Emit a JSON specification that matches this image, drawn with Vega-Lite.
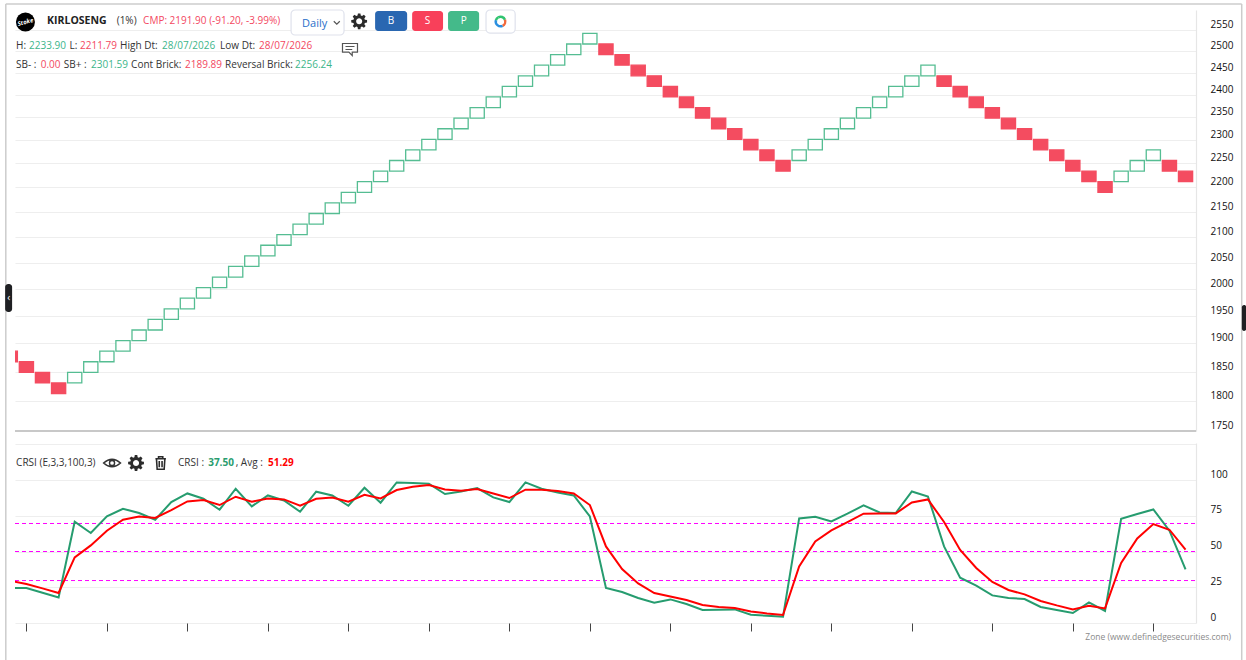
{"$schema":"https://vega.github.io/schema/vega-lite/v6.json","autosize":{"type":"none"},"padding":{"left":15,"right":50,"top":10,"bottom":37},"width":1181,"height":613,"background":"#ffffff","config":{"view":{"stroke":null},"text":{"font":"Open Sans"}},
"datasets":{
"bricks":[{"i":-1,"price":1867.58,"high":1886.25,"dir":"down"},{"i":0,"price":1849.08,"high":1867.58,"dir":"down"},{"i":1,"price":1830.78,"high":1849.08,"dir":"down"},{"i":2,"price":1812.65,"high":1830.78,"dir":"down"},{"i":3,"price":1830.78,"high":1849.08,"dir":"up"},{"i":4,"price":1849.08,"high":1867.58,"dir":"up"},{"i":5,"price":1867.58,"high":1886.25,"dir":"up"},{"i":6,"price":1886.25,"high":1905.11,"dir":"up"},{"i":7,"price":1905.11,"high":1924.16,"dir":"up"},{"i":8,"price":1924.16,"high":1943.4,"dir":"up"},{"i":9,"price":1943.4,"high":1962.84,"dir":"up"},{"i":10,"price":1962.84,"high":1982.47,"dir":"up"},{"i":11,"price":1982.47,"high":2002.29,"dir":"up"},{"i":12,"price":2002.29,"high":2022.32,"dir":"up"},{"i":13,"price":2022.32,"high":2042.54,"dir":"up"},{"i":14,"price":2042.54,"high":2062.96,"dir":"up"},{"i":15,"price":2062.96,"high":2083.59,"dir":"up"},{"i":16,"price":2083.59,"high":2104.43,"dir":"up"},{"i":17,"price":2104.43,"high":2125.47,"dir":"up"},{"i":18,"price":2125.47,"high":2146.73,"dir":"up"},{"i":19,"price":2146.73,"high":2168.19,"dir":"up"},{"i":20,"price":2168.19,"high":2189.88,"dir":"up"},{"i":21,"price":2189.88,"high":2211.78,"dir":"up"},{"i":22,"price":2211.78,"high":2233.9,"dir":"up"},{"i":23,"price":2233.9,"high":2256.24,"dir":"up"},{"i":24,"price":2256.24,"high":2278.8,"dir":"up"},{"i":25,"price":2278.8,"high":2301.59,"dir":"up"},{"i":26,"price":2301.59,"high":2324.61,"dir":"up"},{"i":27,"price":2324.61,"high":2347.85,"dir":"up"},{"i":28,"price":2347.85,"high":2371.33,"dir":"up"},{"i":29,"price":2371.33,"high":2395.04,"dir":"up"},{"i":30,"price":2395.04,"high":2418.99,"dir":"up"},{"i":31,"price":2418.99,"high":2443.18,"dir":"up"},{"i":32,"price":2443.18,"high":2467.62,"dir":"up"},{"i":33,"price":2467.62,"high":2492.29,"dir":"up"},{"i":34,"price":2492.29,"high":2517.22,"dir":"up"},{"i":35,"price":2517.22,"high":2542.39,"dir":"up"},{"i":36,"price":2492.29,"high":2517.22,"dir":"down"},{"i":37,"price":2467.62,"high":2492.29,"dir":"down"},{"i":38,"price":2443.18,"high":2467.62,"dir":"down"},{"i":39,"price":2418.99,"high":2443.18,"dir":"down"},{"i":40,"price":2395.04,"high":2418.99,"dir":"down"},{"i":41,"price":2371.33,"high":2395.04,"dir":"down"},{"i":42,"price":2347.85,"high":2371.33,"dir":"down"},{"i":43,"price":2324.61,"high":2347.85,"dir":"down"},{"i":44,"price":2301.59,"high":2324.61,"dir":"down"},{"i":45,"price":2278.8,"high":2301.59,"dir":"down"},{"i":46,"price":2256.24,"high":2278.8,"dir":"down"},{"i":47,"price":2233.9,"high":2256.24,"dir":"down"},{"i":48,"price":2256.24,"high":2278.8,"dir":"up"},{"i":49,"price":2278.8,"high":2301.59,"dir":"up"},{"i":50,"price":2301.59,"high":2324.61,"dir":"up"},{"i":51,"price":2324.61,"high":2347.85,"dir":"up"},{"i":52,"price":2347.85,"high":2371.33,"dir":"up"},{"i":53,"price":2371.33,"high":2395.04,"dir":"up"},{"i":54,"price":2395.04,"high":2418.99,"dir":"up"},{"i":55,"price":2418.99,"high":2443.18,"dir":"up"},{"i":56,"price":2443.18,"high":2467.62,"dir":"up"},{"i":57,"price":2418.99,"high":2443.18,"dir":"down"},{"i":58,"price":2395.04,"high":2418.99,"dir":"down"},{"i":59,"price":2371.33,"high":2395.04,"dir":"down"},{"i":60,"price":2347.85,"high":2371.33,"dir":"down"},{"i":61,"price":2324.61,"high":2347.85,"dir":"down"},{"i":62,"price":2301.59,"high":2324.61,"dir":"down"},{"i":63,"price":2278.8,"high":2301.59,"dir":"down"},{"i":64,"price":2256.24,"high":2278.8,"dir":"down"},{"i":65,"price":2233.9,"high":2256.24,"dir":"down"},{"i":66,"price":2211.78,"high":2233.9,"dir":"down"},{"i":67,"price":2189.88,"high":2211.78,"dir":"down"},{"i":68,"price":2211.78,"high":2233.9,"dir":"up"},{"i":69,"price":2233.9,"high":2256.24,"dir":"up"},{"i":70,"price":2256.24,"high":2278.8,"dir":"up"},{"i":71,"price":2233.9,"high":2256.24,"dir":"down"},{"i":72,"price":2211.78,"high":2233.9,"dir":"down"}],
"crsi":[{"i":-1,"crsi":24.48,"avg":29.58},{"i":0,"crsi":24.48,"avg":27.27},{"i":1,"crsi":21.19,"avg":24.2},{"i":2,"crsi":17.9,"avg":20.98},{"i":3,"crsi":70.84,"avg":45.87},{"i":4,"crsi":62.94,"avg":54.27},{"i":5,"crsi":74.55,"avg":64.55},{"i":6,"crsi":79.93,"avg":72.24},{"i":7,"crsi":76.92,"avg":74.55},{"i":8,"crsi":72.24,"avg":73.43},{"i":9,"crsi":84.62,"avg":79.02},{"i":10,"crsi":90.63,"avg":85.03},{"i":11,"crsi":86.92,"avg":86.01},{"i":12,"crsi":79.23,"avg":82.52},{"i":13,"crsi":93.92,"avg":88.32},{"i":14,"crsi":81.54,"avg":84.83},{"i":15,"crsi":89.23,"avg":87.13},{"i":16,"crsi":85.73,"avg":86.43},{"i":17,"crsi":77.83,"avg":82.03},{"i":18,"crsi":91.82,"avg":86.92},{"i":19,"crsi":89.23,"avg":87.83},{"i":20,"crsi":82.03,"avg":84.83},{"i":21,"crsi":94.62,"avg":89.72},{"i":22,"crsi":84.13,"avg":87.13},{"i":23,"crsi":98.32,"avg":93.01},{"i":24,"crsi":97.9,"avg":95.31},{"i":25,"crsi":97.41,"avg":96.5},{"i":26,"crsi":90.21,"avg":93.43},{"i":27,"crsi":92.03,"avg":92.52},{"i":28,"crsi":94.41,"avg":93.71},{"i":29,"crsi":87.83,"avg":90.63},{"i":30,"crsi":84.62,"avg":87.41},{"i":31,"crsi":98.32,"avg":93.22},{"i":32,"crsi":93.92,"avg":93.22},{"i":33,"crsi":91.33,"avg":92.31},{"i":34,"crsi":89.23,"avg":90.63},{"i":35,"crsi":74.55,"avg":82.52},{"i":36,"crsi":24.48,"avg":53.57},{"i":37,"crsi":21.68,"avg":37.76},{"i":38,"crsi":17.48,"avg":27.69},{"i":39,"crsi":14.2,"avg":20.98},{"i":40,"crsi":16.5,"avg":18.6},{"i":41,"crsi":13.29,"avg":16.08},{"i":42,"crsi":9.09,"avg":12.59},{"i":43,"crsi":9.3,"avg":11.19},{"i":44,"crsi":9.51,"avg":10.49},{"i":45,"crsi":5.8,"avg":8.11},{"i":46,"crsi":5.1,"avg":6.71},{"i":47,"crsi":4.41,"avg":5.59},{"i":48,"crsi":73.15,"avg":39.58},{"i":49,"crsi":74.34,"avg":57.06},{"i":50,"crsi":71.05,"avg":64.76},{"i":51,"crsi":76.43,"avg":70.63},{"i":52,"crsi":82.24,"avg":76.43},{"i":53,"crsi":77.34,"avg":76.64},{"i":54,"crsi":76.92,"avg":76.64},{"i":55,"crsi":92.03,"avg":84.34},{"i":56,"crsi":88.53,"avg":86.43},{"i":57,"crsi":53.57,"avg":70.63},{"i":58,"crsi":31.68,"avg":51.05},{"i":59,"crsi":26.08,"avg":38.46},{"i":60,"crsi":19.3,"avg":28.67},{"i":61,"crsi":17.48,"avg":23.08},{"i":62,"crsi":16.78,"avg":20.0},{"i":63,"crsi":11.19,"avg":15.38},{"i":64,"crsi":9.09,"avg":12.31},{"i":65,"crsi":6.99,"avg":9.51},{"i":66,"crsi":14.41,"avg":12.1},{"i":67,"crsi":8.39,"avg":10.21},{"i":68,"crsi":72.94,"avg":41.96},{"i":69,"crsi":76.22,"avg":59.16},{"i":70,"crsi":79.44,"avg":69.23},{"i":71,"crsi":64.55,"avg":65.24},{"i":72,"crsi":37.5,"avg":51.29}]
},
"encoding":{"x":{"field":"i","type":"quantitative","title":null,"scale":{"domain":[-0.708,72.65],"nice":false,"zero":false,"padding":0},"axis":{"values":[0,5,10,15,20,25,30,35,40,45,50,55,60,65,70],"grid":false,"labels":false,"domain":false,"ticks":true,"tickSize":8,"tickColor":"#444444","tickWidth":1,"title":null}}},
"resolve":{"scale":{"y":"independent"}},
"layer":[
{"encoding":{"y":{"field":"price","type":"quantitative","title":null,"scale":{"type":"log","domain":[1750,2598.9],"range":[421,0],"nice":false,"zero":false},"axis":{"orient":"right","values":[1750,1800,1850,1900,1950,2000,2050,2100,2150,2200,2250,2300,2350,2400,2450,2500,2550],"format":"d","grid":true,"gridColor":"#eeeeee","gridWidth":1.2,"ticks":false,"domain":true,"domainColor":"#e6e6e6","domainWidth":1.2,"labelPadding":14,"labelOffset":-5.5,"labelFont":"Open Sans","labelFontSize":10,"labelColor":"#111111","labelOverlap":false,"labelBound":false,"labelFlush":false,"title":null}}},
"layer":[
{"data":{"values":[{"i":-0.708,"i2":72.65,"price":1750}]},"mark":{"type":"rule","stroke":"#c8c8c8","strokeWidth":2},"encoding":{"x2":{"field":"i2"}}},
{"data":{"values":[{"i":-1.28,"i2":75.49,"price":2613.6,"price2":2613.6},{"i":-1.28,"i2":-1.28,"price":2613.6,"price2":1411.3},{"i":75.49,"i2":75.49,"price":2613.6,"price2":1411.3}]},"mark":{"type":"rule","stroke":"#cccccc","strokeWidth":1.5},"encoding":{"x2":{"field":"i2"},"y2":{"field":"price2"}}},
{"data":{"name":"bricks"},"mark":{"type":"bar","width":14.2,"clip":true,"strokeWidth":1.3},"encoding":{"y2":{"field":"high"},"fill":{"field":"dir","type":"nominal","legend":null,"scale":{"domain":["up","down","B","S","P","handle"],"range":["#ffffff","#f44c60","#2a67b1","#f8405a","#44ba8a","#1f2023"]}},"stroke":{"field":"dir","type":"nominal","legend":null,"scale":{"domain":["up","down"],"range":["#55bd92","#f44c60"]}}}},
{"data":{"values":[{"i":16.44,"i2":19.73,"price":2538.6,"price2":2598.9,"part":"dropdown"},{"i":28.55,"i2":30.36,"price":2543.2,"price2":2598.9,"part":"ring"}]},"mark":{"type":"rect","cornerRadius":4,"fill":"#ffffff","stroke":"#dfe2ec","strokeWidth":1.2},"encoding":{"x2":{"field":"i2"},"y2":{"field":"price2"}}},
{"data":{"values":[{"i":21.66,"i2":23.65,"price":2548.1,"price2":2596.5,"part":"B"},{"i":23.96,"i2":25.88,"price":2548.1,"price2":2596.5,"part":"S"},{"i":26.19,"i2":28.12,"price":2548.1,"price2":2596.5,"part":"P"},{"i":-1.32,"i2":-0.888,"price":1957,"price2":2009.1,"part":"handle"},{"i":75.5,"i2":75.77,"price":1922.4,"price2":1969.9,"part":"handle"}]},"mark":{"type":"rect","cornerRadius":3},"encoding":{"x2":{"field":"i2"},"y2":{"field":"price2"},"fill":{"field":"part","type":"nominal","legend":null,"scale":{"domain":["up","down","B","S","P","handle"],"range":["#ffffff","#f44c60","#2a67b1","#f8405a","#44ba8a","#1f2023"]}}}},
{"data":{"values":[{"i":29.45,"price":2571,"a":-0.5,"b":1.2,"part":"g"},{"i":29.45,"price":2571,"a":1.2,"b":2.7,"part":"o"},{"i":29.45,"price":2571,"a":2.7,"b":5.0,"part":"b"},{"i":29.45,"price":2571,"a":5.0,"b":5.78,"part":"g"}]},"mark":{"type":"arc","radius":6,"radius2":3.5},"encoding":{"theta":{"field":"a","type":"quantitative","scale":null},"theta2":{"field":"b"},"color":{"field":"part","type":"nominal","legend":null,"scale":{"domain":["g","o","b","ink","up","down","blue","white"],"range":["#2fc46f","#f2693c","#2b8fe0","#333333","#3db58a","#f3485f","#2a6fc9","#ffffff"]}}}},
{"data":{"values":[{"i":-0.06,"price":2569.8}]},"mark":{"type":"point","shape":"circle","filled":true,"size":361,"fill":"#000000","stroke":null,"opacity":1}},
{"data":{"values":[{"i":-0.06,"price":2569.8,"label":"Stoke"}]},"mark":{"type":"text","fontSize":6,"fontStyle":"italic","fontWeight":"bold","fill":"#ffffff","angle":345,"align":"center","baseline":"middle"},"encoding":{"text":{"field":"label"}}},
{"data":{"values":[{"i":1.286,"price":2572.2,"label":"KIRLOSENG"}]},"mark":{"type":"text","fontSize":10.5,"fontWeight":"bold","fill":"#222222","align":"left","baseline":"middle"},"encoding":{"text":{"field":"label"}}},
{"data":{"values":[{"i":5.609,"price":2572.2,"label":"(1%)","tone":"ink"},{"i":7.248,"price":2572.2,"label":"CMP: 2191.90 (-91.20, -3.99%)","tone":"down"},{"i":-0.64,"price":2512.5,"label":"H:","tone":"ink"},{"i":0.168,"price":2512.5,"label":"2233.90","tone":"up"},{"i":2.683,"price":2512.5,"label":"L:","tone":"ink"},{"i":3.335,"price":2512.5,"label":"2211.79","tone":"down"},{"i":5.82,"price":2512.5,"label":"High Dt:","tone":"ink"},{"i":8.429,"price":2512.5,"label":"28/07/2026","tone":"up"},{"i":12.031,"price":2512.5,"label":"Low Dt:","tone":"ink"},{"i":14.453,"price":2512.5,"label":"28/07/2026","tone":"down"},{"i":-0.64,"price":2468.1,"label":"SB- :","tone":"ink"},{"i":0.888,"price":2468.1,"label":"0.00","tone":"down"},{"i":2.317,"price":2468.1,"label":"SB+ :","tone":"ink"},{"i":4.019,"price":2468.1,"label":"2301.59","tone":"up"},{"i":6.503,"price":2468.1,"label":"Cont Brick:","tone":"ink"},{"i":9.857,"price":2468.1,"label":"2189.89","tone":"down"},{"i":12.342,"price":2468.1,"label":"Reversal Brick:","tone":"ink"},{"i":16.689,"price":2468.1,"label":"2256.24","tone":"up"}]},"mark":{"type":"text","fontSize":10,"align":"left","baseline":"middle"},"encoding":{"text":{"field":"label"},"color":{"field":"tone","type":"nominal","legend":null,"scale":{"domain":["g","o","b","ink","up","down","blue","white"],"range":["#2fc46f","#f2693c","#2b8fe0","#333333","#3db58a","#f3485f","#2a6fc9","#ffffff"]}}}},
{"data":{"values":[{"i":17.125,"price":2565,"label":"Daily"}]},"mark":{"type":"text","fontSize":11,"fill":"#2a6fc9","align":"left","baseline":"middle"},"encoding":{"text":{"field":"label"}}},
{"data":{"values":[{"i":22.65,"price":2571.5,"label":"B"},{"i":24.92,"price":2571.5,"label":"S"},{"i":27.16,"price":2571.5,"label":"P"},{"i":-1.1,"price":1983,"label":"‹"}]},"mark":{"type":"text","fontSize":10,"fill":"#ffffff","align":"center","baseline":"middle"},"encoding":{"text":{"field":"label"}}},
{"data":{"values":[{"i":19.28,"price":2568}]},"mark":{"type":"point","shape":"M-1,-0.5 L0,0.5 L1,-0.5","filled":false,"fill":null,"size":36,"stroke":"#555555","strokeWidth":1.2,"opacity":1}},
{"data":{"values":[{"i":20.67,"price":2571.5}]},"mark":{"type":"point","filled":true,"size":256,"fill":"#2b2b2b","stroke":null,"opacity":1,"shape":"M.711,-.204 L.988,-.156 L.988,.156 L.711,.204 L.647,.359 L.809,.588 L.588,.809 L.359,.647 L.204,.711 L.156,.988 L-.156,.988 L-.204,.711 L-.359,.647 L-.588,.809 L-.809,.588 L-.647,.359 L-.711,.204 L-.988,.156 L-.988,-.156 L-.711,-.204 L-.647,-.359 L-.809,-.588 L-.588,-.809 L-.359,-.647 L-.204,-.711 L-.156,-.988 L.156,-.988 L.204,-.711 L.359,-.647 L.588,-.809 L.809,-.588 L.647,-.359 Z M.38,0 A.38,.38 0 1 0 -.38,0 A.38,.38 0 1 0 .38,0 Z"}},
{"data":{"values":[{"i":20.1,"price":2506}]},"mark":{"type":"point","filled":false,"fill":"#ffffff","size":225,"stroke":"#555555","strokeWidth":1.2,"opacity":1,"shape":"M-1,-.7 H1 V.45 H.3 L.3,.9 L-.15,.45 H-1 Z M-.6,-.3 H.6 M-.6,.1 H.3"}}
]},
{"encoding":{"y":{"field":"v","type":"quantitative","title":null,"scale":{"domain":[0,125.9],"range":[613,433],"nice":false,"zero":false},"axis":{"orient":"right","values":[0,25,50,75,100,125],"labelExpr":"datum.value>100?'':datum.label","grid":true,"gridColor":"#eeeeee","gridWidth":1.2,"ticks":false,"domain":true,"domainColor":"#e6e6e6","domainWidth":1.2,"labelPadding":14,"labelOffset":-6,"labelFont":"Open Sans","labelFontSize":10,"labelColor":"#111111","labelOverlap":false,"labelBound":false,"labelFlush":false,"title":null}}},
"layer":[
{"data":{"values":[{"i":-0.708,"i2":72.65,"v":69.6},{"i":-0.708,"i2":72.65,"v":50},{"i":-0.708,"i2":72.65,"v":29.7}]},"mark":{"type":"rule","stroke":"#ff00ff","strokeWidth":1,"strokeDash":[4,3]},"encoding":{"x2":{"field":"i2"}}},
{"data":{"name":"crsi"},"transform":[{"fold":["crsi"],"as":["series","v"]}],"mark":{"type":"line","stroke":"#269c6f","strokeWidth":2,"clip":true}},
{"data":{"name":"crsi"},"transform":[{"fold":["avg"],"as":["series","v"]}],"mark":{"type":"line","stroke":"#ff0000","strokeWidth":2,"clip":true}},
{"data":{"values":[{"i":-0.64,"v":112.1,"label":"CRSI (E,3,3,100,3)","tone":"ink"},{"i":9.42,"v":112.1,"label":"CRSI :","tone":"ink"},{"i":13.0,"v":112.1,"label":", Avg :","tone":"ink"}]},"mark":{"type":"text","fontSize":10,"align":"left","baseline":"middle"},"encoding":{"text":{"field":"label"},"color":{"field":"tone","type":"nominal","legend":null,"scale":{"domain":["g","o","b","ink","up","down","blue","white"],"range":["#2fc46f","#f2693c","#2b8fe0","#333333","#3db58a","#f3485f","#2a6fc9","#ffffff"]}}}},
{"data":{"values":[{"i":11.29,"v":112.1,"label":"37.50"}]},"mark":{"type":"text","fontSize":10,"fontWeight":"bold","fill":"#2a9d6f","align":"left","baseline":"middle"},"encoding":{"text":{"field":"label"}}},
{"data":{"values":[{"i":15.01,"v":112.1,"label":"51.29"}]},"mark":{"type":"text","fontSize":10,"fontWeight":"bold","fill":"#ff0000","align":"left","baseline":"middle"},"encoding":{"text":{"field":"label"}}},
{"data":{"values":[{"i":5.32,"v":111.9}]},"mark":{"type":"point","filled":false,"size":289,"stroke":"#333333","strokeWidth":1.4,"opacity":1,"shape":"M-1,0 Q0,-.9 1,0 Q0,.9 -1,0 Z M-.3,0 A.3,.3 0 1 0 .3,0 A.3,.3 0 1 0 -.3,0 Z"}},
{"data":{"values":[{"i":6.81,"v":111.9}]},"mark":{"type":"point","filled":true,"size":256,"fill":"#2b2b2b","stroke":null,"opacity":1,"shape":"M.711,-.204 L.988,-.156 L.988,.156 L.711,.204 L.647,.359 L.809,.588 L.588,.809 L.359,.647 L.204,.711 L.156,.988 L-.156,.988 L-.204,.711 L-.359,.647 L-.588,.809 L-.809,.588 L-.647,.359 L-.711,.204 L-.988,.156 L-.988,-.156 L-.711,-.204 L-.647,-.359 L-.809,-.588 L-.588,-.809 L-.359,-.647 L-.204,-.711 L-.156,-.988 L.156,-.988 L.204,-.711 L.359,-.647 L.588,-.809 L.809,-.588 L.647,-.359 Z M.38,0 A.38,.38 0 1 0 -.38,0 A.38,.38 0 1 0 .38,0 Z"}},
{"data":{"values":[{"i":8.34,"v":111.9}]},"mark":{"type":"point","filled":false,"size":196,"stroke":"#2b2b2b","strokeWidth":1.6,"opacity":1,"shape":"M-.75,-.6 H.75 M-.3,-.6 V-.9 H.3 V-.6 M-.6,-.6 L-.5,.9 H.5 L.6,-.6 M-.2,-.3 V.6 M.2,-.3 V.6"}},
{"data":{"values":[{"i":74.83,"v":-9.6,"label":"Zone (www.definedgesecurities.com)"}]},"mark":{"type":"text","fontSize":8.5,"fill":"#8a8a8a","align":"right","baseline":"middle"},"encoding":{"text":{"field":"label"}}}
]}
]}
